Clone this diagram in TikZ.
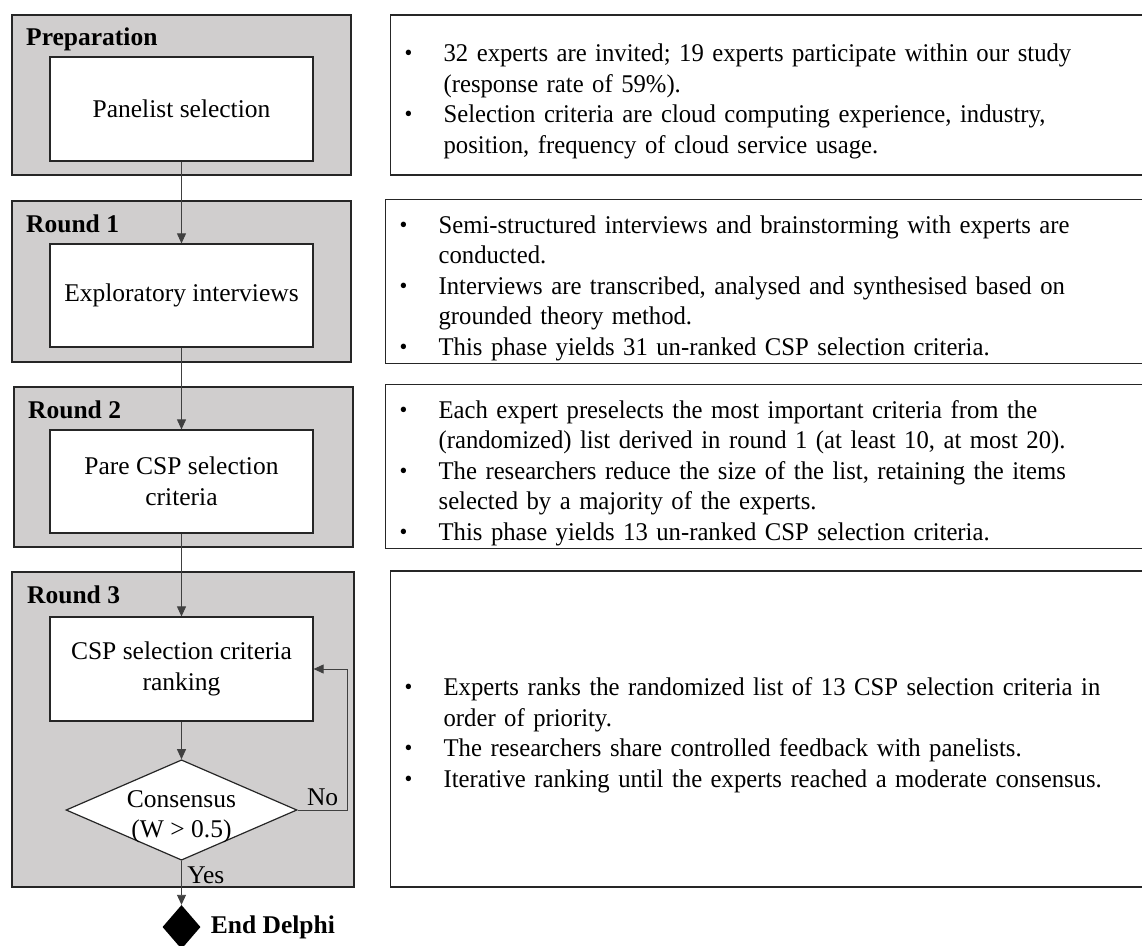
\documentclass[tikz,border=0pt]{standalone}
\usepackage{fontspec}
\setmainfont{Liberation Serif}
\newfontfamily\notefont[FakeStretch=0.968]{Liberation Serif}
\usepackage{tikz}
\usetikzlibrary{arrows.meta,shapes.geometric}
\definecolor{phasegray}{RGB}{208,206,206}
\newcommand{\bul}[1]{\par\hangindent=39pt\hangafter=1\noindent\makebox[39pt][l]{\raisebox{1pt}{\scalebox{0.9}{\textbullet}}}#1\par}

\begin{document}
\begin{tikzpicture}[x=1pt,y=-1pt,>={Triangle[length=10pt,width=9pt]},
every node/.style={font=\fontsize{25.5}{30.5}\selectfont},
phase/.style={rectangle,draw=black!85,line width=1.3pt,fill=phasegray,minimum width=339pt,inner sep=0pt},
phase label/.style={anchor=base west,inner sep=0pt,font=\fontsize{25.5}{30.5}\selectfont\bfseries},
task node/.style={rectangle,draw=black!85,line width=1.2pt,fill=white,minimum width=263pt,minimum height=104pt,align=center},
decision/.style={diamond,draw=black!85,line width=1.2pt,fill=white,aspect=2.3,inner sep=0pt,align=center},
note box/.style={rectangle,draw=black!85,line width=1.3pt,anchor=west,inner xsep=14pt,text width=740pt,
  font=\notefont\fontsize{25.5}{30.5}\selectfont},
flow/.style={->,draw=black!75,fill=black!75,line width=0.9pt}]
\useasboundingbox (0,0) rectangle (1142,945);

% Preparation
  \node[phase,minimum height=160pt] (prep) at (181.5,95) {};
  \node[phase label] (prepl) at (26,45) {Preparation};
  \node[task node] (panel) at (181.5,109) {Panelist selection};

% Round 1
  \node[phase,minimum height=161pt] (r1) at (181.5,281.5) {};
  \node[phase label] (r1l) at (26,232) {Round 1};
  \node[task node,minimum height=103pt] (explor) at (181.5,295.5) {Exploratory interviews};

% Round 2
  \node[phase,minimum height=160pt] (r2) at (183.5,467) {};
  \node[phase label] (r2l) at (28,418) {Round 2};
  \node[task node,minimum height=103pt] (pare) at (181.5,481.5) {Pare CSP selection\\criteria};

% Round 3
  \node[phase,minimum width=342pt,minimum height=315pt] (r3) at (183,729.5) {};
  \node[phase label] (r3l) at (27,603) {Round 3};
  \node[task node] (rank) at (181.5,669) {CSP selection criteria\\ranking};
  \node[decision] (cons) at (181.5,810)
    {\raisebox{0pt}[39pt][14pt]{\begin{tabular}{@{}c@{}}Consensus\\(W > 0.5)\end{tabular}}};

% End of the Delphi study
  \node[diamond,fill=black,minimum width=38pt,minimum height=44pt,inner sep=0pt] (end) at (181.5,927) {};
  \node[phase label,anchor=west,xshift=10pt] (endl) at (end.east) {End Delphi};

% FLOW
  \path[flow]
    (panel) edge (explor)
    (explor) edge (pare)
    (pare) edge (rank)
    (rank) edge (cons)
    (cons) edge node[right,pos=0.32,fill=none,draw=none,xshift=2pt] (yes) {Yes} (end);

  % feedback loop
  \draw[flow,fill=none] (cons.east) -- node[above,fill=none,draw=none] (no) {No} ++(50,0) |- (rank.east);

% NOTES
  \node[note box,minimum height=160pt] (note1) at (390,95) {%
    \bul{32 experts are invited; 19 experts participate within our study\newline (response rate of 59\%).}%
    \bul{Selection criteria are cloud computing experience, industry,\newline position, frequency of cloud service usage.}};
  \node[note box,minimum height=161pt] (note2) at (385,281.5) {%
    \bul{Semi-structured interviews and brainstorming with experts are\newline conducted.}%
    \bul{Interviews are transcribed, analysed and synthesised based on\newline grounded theory method.}%
    \bul{This phase yields 31 un-ranked CSP selection criteria.}};
  \node[note box,minimum height=159pt] (note3) at (385,466.5) {%
    \bul{Each expert preselects the most important criteria from the\newline (randomized) list derived in round 1 (at least 10, at most 20).}%
    \bul{The researchers reduce the size of the list, retaining the items\newline selected by a majority of the experts.}%
    \bul{This phase yields 13 un-ranked CSP selection criteria.}};
  \node[note box,minimum height=316pt] (note4) at (390,729) {%
    \bul{Experts ranks the randomized list of 13 CSP selection criteria in\newline order of priority.}%
    \bul{The researchers share controlled feedback with panelists.}%
    \bul{Iterative ranking until the experts reached a moderate consensus.}};

\end{tikzpicture}
\end{document}
